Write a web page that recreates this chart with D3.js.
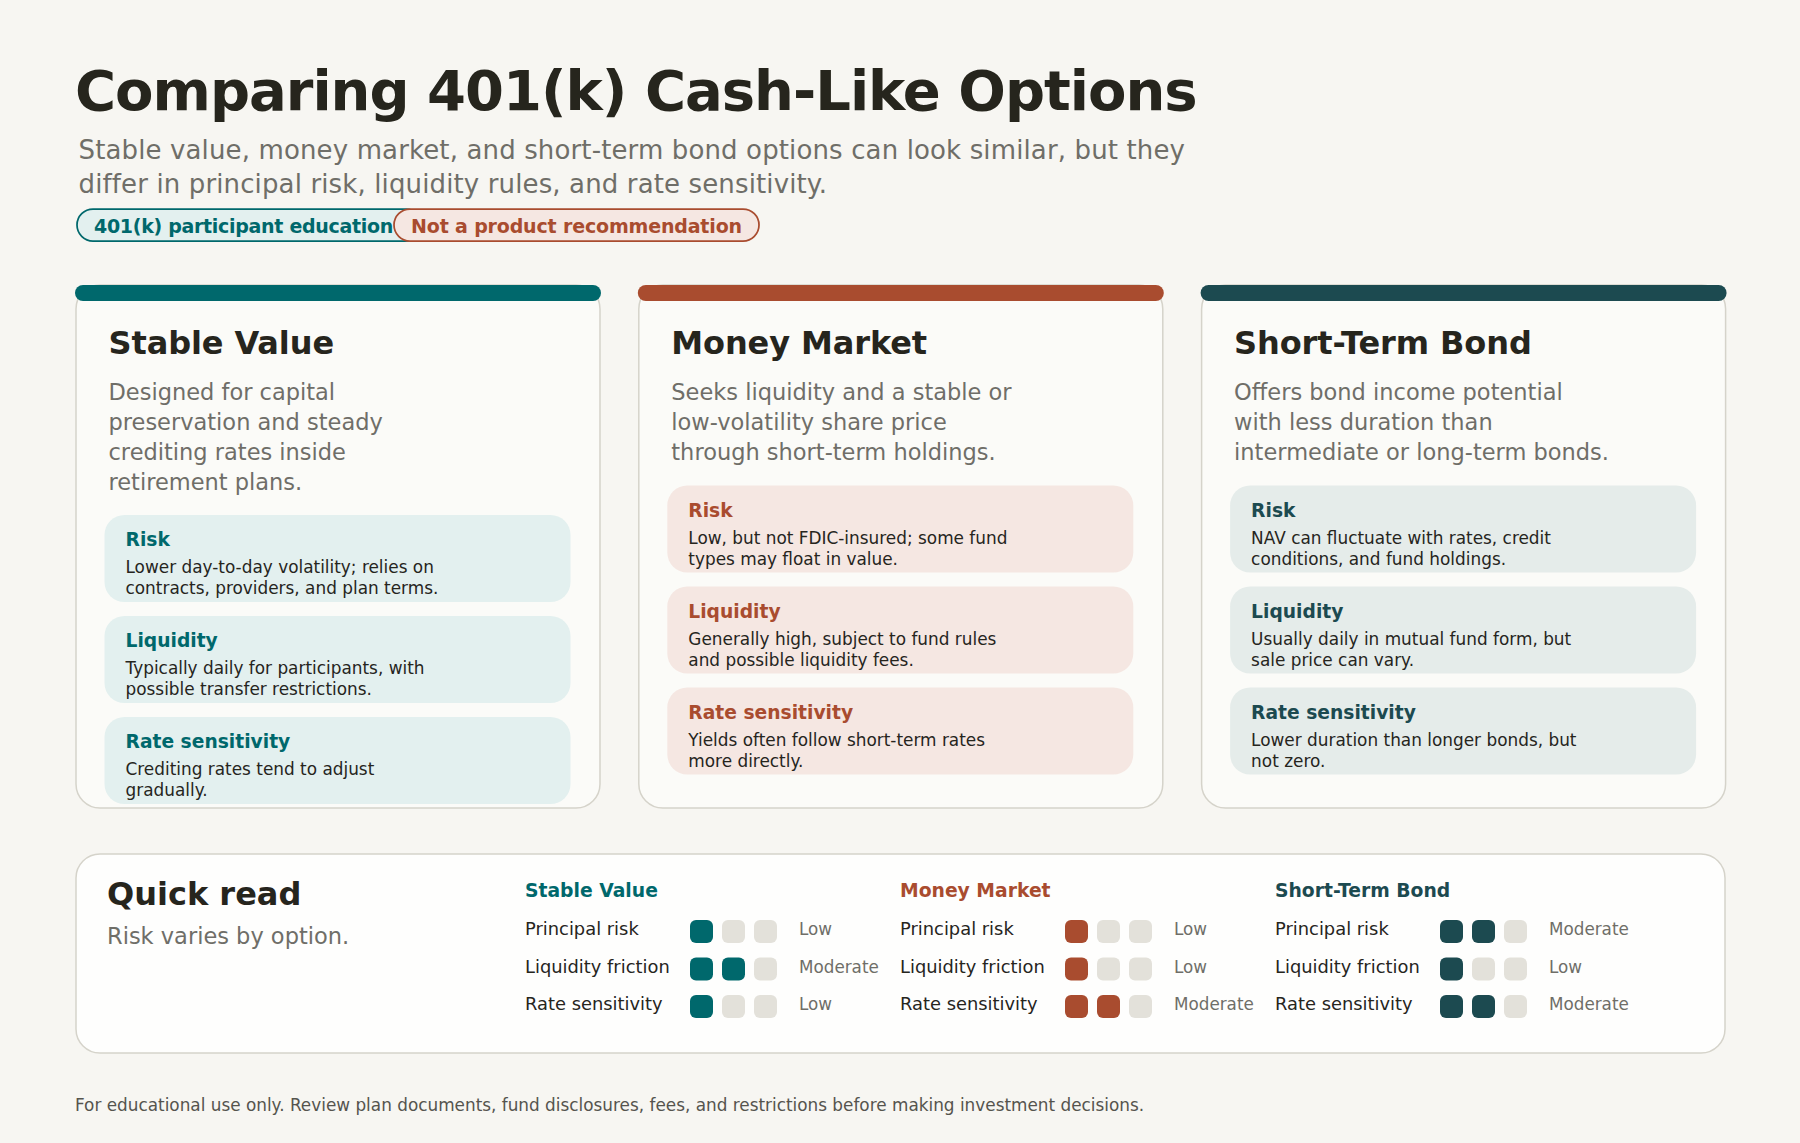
<!DOCTYPE html>
<html>
<head>
<meta charset="utf-8">
<script src="https://cdn.jsdelivr.net/npm/d3@7/dist/d3.min.js"></script>
<style>
html,body{margin:0;padding:0;background:#f7f6f2;}
svg{display:block;}
text{font-family:"DejaVu Sans",sans-serif;}
</style>
</head>
<body>
<svg id="chart"></svg>
<script>
var titleText="Comparing 401(k) Cash-Like Options"
var subtitleLines=["Stable value, money market, and short-term bond options can look similar, but they","differ in principal risk, liquidity rules, and rate sensitivity."]
var pillLabels=["401(k) participant education","Not a product recommendation"]
var footerText="For educational use only. Review plan documents, fund disclosures, fees, and restrictions before making investment decisions."

var options=["Stable Value","Money Market","Short-Term Bond"]
var descriptions=[
    ["Designed for capital","preservation and steady","crediting rates inside","retirement plans."],
    ["Seeks liquidity and a stable or","low-volatility share price","through short-term holdings."],
    ["Offers bond income potential","with less duration than","intermediate or long-term bonds."]
]
var boxLabels=["Risk","Liquidity","Rate sensitivity"]
var boxTexts=[
    [["Lower day-to-day volatility; relies on","contracts, providers, and plan terms."],["Typically daily for participants, with","possible transfer restrictions."],["Crediting rates tend to adjust","gradually."]],
    [["Low, but not FDIC-insured; some fund","types may float in value."],["Generally high, subject to fund rules","and possible liquidity fees."],["Yields often follow short-term rates","more directly."]],
    [["NAV can fluctuate with rates, credit","conditions, and fund holdings."],["Usually daily in mutual fund form, but","sale price can vary."],["Lower duration than longer bonds, but","not zero."]]
]
var quickRows=["Principal risk","Liquidity friction","Rate sensitivity"]
var levelNames=["Low","Moderate","High"]
var stableScores=[1,2,1]
var moneyScores=[1,1,2]
var bondScores=[2,1,2]
var scores=[stableScores,moneyScores,bondScores]

var screen={width:1800,height:1143}
var ink="#26251d", muted="#6f6e68", body="#26251d", empty="#e3e1da"
var main=["#00686c","#a94c2f","#1c4a50"]
var tint=["#e3f0ef","#f5e7e2","#e5ecea"]

var svg=d3.select("#chart")
    .attr("width",screen.width)
    .attr("height",screen.height)
    .attr("viewBox","0 0 1800 1143")

svg.append("rect").attr("width",screen.width).attr("height",screen.height).attr("fill","#f7f6f2")

var addText=function(target,str,x,y,size,color,weight,spacing){
    return target.append("text")
        .text(str)
        .attr("x",x)
        .attr("y",y)
        .attr("font-size",size)
        .attr("fill",color)
        .attr("font-weight",weight||"normal")
        .attr("letter-spacing",spacing||0)
}

//header
addText(svg,titleText,75,110,56,ink,"bold",-1)
subtitleLines.forEach(function(line,i){
    addText(svg,line,78.5,159+i*34,26,muted,"normal",0.13)
})
var pillSpec=[{x:77,w:345,c:0,s:-0.3},{x:394,w:365,c:1,s:-0.16}]
pillLabels.forEach(function(label,i){
    var p=pillSpec[i]
    svg.append("rect")
        .attr("x",p.x).attr("y",209).attr("width",p.w).attr("height",32)
        .attr("rx",16)
        .attr("fill",tint[p.c]).attr("stroke",main[p.c]).attr("stroke-width",1.75)
    addText(svg,label,p.x+17,232.5,19,main[p.c],"bold",p.s)
})

//cards
var cardX=d3.scaleBand().domain(options).range([75,1726.6]).paddingInner(0.0654).paddingOuter(0)

var cards=svg.selectAll("g.card")
    .data(options)
    .enter()
    .append("g")
    .classed("card",true)
    .attr("transform",function(d){return "translate("+cardX(d)+",0)"})

cards.each(function(name,c){
    var card=d3.select(this)
    var w=cardX.bandwidth()
    card.append("rect")
        .attr("x",1).attr("y",285).attr("width",w-2).attr("height",523)
        .attr("rx",24)
        .attr("fill","#fbfbf8").attr("stroke","#d5d3ca").attr("stroke-width",1.5)
    card.append("rect")
        .attr("x",0).attr("y",285).attr("width",w).attr("height",16)
        .attr("rx",8)
        .attr("fill",main[c])
    addText(card,name,33.5,354,32,ink,"bold",-0.1)
    descriptions[c].forEach(function(line,i){
        addText(card,line,33.5,400+i*30,22.5,muted)
    })
    var boxTop=c==0?515:485.5
    var boxY=d3.scaleLinear().domain([0,1]).range([boxTop,boxTop+101])
    boxLabels.forEach(function(label,i){
        var y=boxY(i)
        card.append("rect")
            .attr("x",29.5).attr("y",y).attr("width",466).attr("height",87)
            .attr("rx",20)
            .attr("fill",tint[c])
        addText(card,label,50.5,y+31,18.7,main[c],"bold")
        boxTexts[c][i].forEach(function(line,j){
            addText(card,line,50.5,y+58.3+j*20.7,16.9,body)
        })
    })
})

//quick read
svg.append("rect")
    .attr("x",76).attr("y",854).attr("width",1649).attr("height",199)
    .attr("rx",24)
    .attr("fill","#fefefd").attr("stroke","#d5d3ca").attr("stroke-width",1.5)
addText(svg,"Quick read",107,905,32,ink,"bold")
addText(svg,"Risk varies by option.",107,944,22.5,muted)

var quickX=d3.scaleLinear().domain([0,1]).range([525,900])
var rowY=d3.scaleLinear().domain([0,1]).range([935,972.5])
var dotX=d3.scaleLinear().domain([0,1]).range([165,197])

options.forEach(function(name,c){
    var col=svg.append("g").attr("transform","translate("+quickX(c)+",0)")
    addText(col,name,0,897,18.76,main[c],"bold")
    quickRows.forEach(function(label,r){
        var y=rowY(r)
        addText(col,label,0,y,17.86,body)
        col.selectAll("rect.dot"+r)
            .data([0,1,2])
            .enter()
            .append("rect")
            .classed("dot"+r,true)
            .attr("x",function(d){return dotX(d)})
            .attr("y",y-15)
            .attr("width",23)
            .attr("height",23)
            .attr("rx",6)
            .attr("fill",function(d){return d<scores[c][r]?main[c]:empty})
        addText(col,levelNames[scores[c][r]-1],274,y,16.8,muted)
    })
})

addText(svg,footerText,75,1110.5,16.88,"#55544e")
</script>
</body>
</html>
